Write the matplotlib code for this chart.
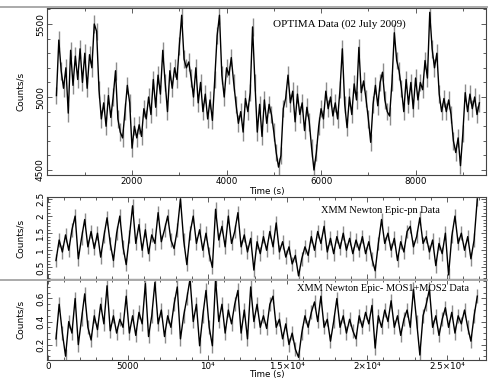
import numpy as np
import matplotlib
matplotlib.use("Agg")
import matplotlib.pyplot as plt
from matplotlib.ticker import MultipleLocator, FixedLocator, FixedFormatter
from matplotlib.lines import Line2D

# OPTIMA light curve (counts/s), 50 s bins starting at 400 s
OPT_T0, OPT_DT = 400, 50
opt_rate = [
    5010, 5390, 5180, 5060, 5200, 4890, 5320, 5080, 5280, 5120,
    5330, 5100, 5300, 5060, 5290, 5200, 5500, 5450, 5050, 4850,
    4960, 4800, 5010, 4860, 5000, 5180, 4850, 4760, 4720, 4900,
    5080, 4960, 4650, 4800, 4720, 4810, 4730, 4920, 4850, 5000,
    4880, 5120, 4930, 5150, 5020, 5320, 5100, 4900, 5180, 5060,
    5200, 5120, 5350, 5560, 5260, 5200, 5240, 5130, 5000, 5200,
    4960, 5100, 4900, 5020, 4850, 4980, 4840, 5120, 5420, 5560,
    5150, 5000, 5200, 5150, 5270, 5100, 4950, 4820, 4900, 4760,
    4990, 4900, 5030, 5480, 5100, 4760, 4950, 4730, 4980, 4820,
    4950, 4880, 4760, 4620, 4520, 4600, 4920, 4990, 5150, 4960,
    5040, 4830, 5020, 4880, 4960, 4770, 4930, 4830, 4650, 4500,
    4620, 4800, 4920, 4850, 5040, 4920, 5000, 4870, 4960, 4850,
    5050, 5330, 4950, 4790, 5000, 4880, 5090, 4980, 5340, 5030,
    5110, 4990, 4850, 4690, 4950, 5080, 4940, 5100, 5170, 4980,
    4900, 4870, 5100, 5440, 5250, 5180, 5060, 4900, 5120, 4950,
    5100, 4920, 5130, 4980, 5100, 5050, 5250, 5130, 5580, 5330,
    5200, 5300, 5020, 4900, 4990, 4900, 4980, 4880, 4700, 4620,
    4720, 4530, 4750, 5030, 4900, 5020, 4920, 5000, 4880, 4960,
]
opt_err = 60

# XMM light curves, 200 s bins starting at 500 s
XMM_T0, XMM_DT = 500, 200
pn_rate = [
    0.70, 1.30, 0.95, 1.45, 1.00, 1.60, 2.00, 0.75, 1.35, 1.90,
    1.10, 1.55, 1.05, 1.50, 0.80, 1.40, 1.95, 1.20, 0.70, 1.50,
    2.00, 1.10, 0.58, 1.40, 2.30, 1.20, 1.75, 1.00, 1.60, 0.90,
    1.45, 1.20, 2.10, 1.25, 1.60, 2.00, 1.30, 1.05, 1.60, 2.50,
    1.30, 0.58, 1.50, 2.00, 1.20, 1.60, 1.00, 1.50, 0.90, 0.50,
    2.20, 1.30, 1.70, 1.10, 2.00, 1.20, 1.55, 2.10, 1.10, 1.45,
    0.95, 1.35, 0.42, 1.25, 0.90, 1.40, 1.00, 1.55, 1.10, 1.80,
    0.95, 1.25, 0.80, 1.10, 0.60, 0.85, 0.25, 0.75, 1.10, 0.85,
    1.40, 1.00, 1.55, 1.20, 1.70, 0.95, 1.35, 0.90, 1.40, 1.05,
    1.50, 1.00, 1.35, 0.90, 1.30, 1.00, 1.40, 0.90, 1.25, 0.75,
    0.40, 1.20, 1.90, 1.20, 1.50, 1.00, 1.35, 0.70, 1.25, 0.95,
    1.55, 1.70, 1.10, 1.40, 1.95, 1.20, 1.40, 0.95, 1.30, 0.55,
    1.20, 0.90, 1.50, 0.28, 1.40, 2.00, 1.20, 1.50, 1.00, 1.40,
    0.75, 1.30, 2.50,
]
pn_err = 0.2

mos_rate = [
    0.25, 0.55, 0.30, 0.10, 0.40, 0.30, 0.60, 0.20, 0.42, 0.64,
    0.35, 0.24, 0.45, 0.33, 0.55, 0.38, 0.71, 0.32, 0.45, 0.30,
    0.42, 0.35, 0.62, 0.30, 0.45, 0.28, 0.48, 0.38, 0.73, 0.27,
    0.45, 0.74, 0.38, 0.50, 0.27, 0.45, 0.35, 0.55, 0.70, 0.25,
    0.45, 0.60, 0.77, 0.40, 0.55, 0.19, 0.45, 0.67, 0.35, 0.19,
    0.77, 0.40, 0.55, 0.30, 0.50, 0.38, 0.55, 0.67, 0.30, 0.50,
    0.25, 0.70, 0.40, 0.55, 0.35, 0.45, 0.34, 0.55, 0.62, 0.35,
    0.42, 0.25, 0.38, 0.20, 0.30, 0.16, 0.09, 0.30, 0.45, 0.35,
    0.48, 0.57, 0.40, 0.62, 0.35, 0.42, 0.23, 0.40, 0.60, 0.35,
    0.45, 0.30, 0.42, 0.32, 0.25, 0.45, 0.35, 0.48, 0.38, 0.54,
    0.17, 0.45, 0.35, 0.50, 0.40, 0.58, 0.35, 0.45, 0.28, 0.42,
    0.50, 0.35, 0.68, 0.40, 0.11, 0.45, 0.55, 0.68, 0.35, 0.45,
    0.28, 0.42, 0.52, 0.35, 0.48, 0.30, 0.45, 0.38, 0.50, 0.35,
    0.23, 0.45, 0.62,
]
mos_err = 0.06

opt_t = OPT_T0 + OPT_DT * np.arange(len(opt_rate))
xmm_t = XMM_T0 + XMM_DT * np.arange(len(pn_rate))

NARROW = ["Liberation Sans Narrow", "DejaVu Sans"]
SPINE = "#444444"

fig = plt.figure(figsize=(4.88, 3.78), dpi=100)
ax1 = fig.add_axes([0.0963, 0.537, 0.8996, 0.442])
ax2 = fig.add_axes([0.0963, 0.261, 0.8996, 0.218])
ax3 = fig.add_axes([0.0963, 0.048, 0.8996, 0.213])


def style(ax):
    for s in ax.spines.values():
        s.set_color(SPINE)
        s.set_linewidth(0.8)
    ax.tick_params(which="both", direction="in", top=True, right=True,
                   color=SPINE, width=0.6)
    ax.tick_params(which="major", length=3.5)
    ax.tick_params(which="minor", length=2)
    ax.tick_params(axis="x", labelsize=6.3, pad=1.5)
    ax.tick_params(axis="y", labelsize=6.5, pad=1.5)
    for lab in ax.get_yticklabels():
        lab.set_rotation(90)
        lab.set_va("center")
        lab.set_family(NARROW)
    ax.set_ylabel("Counts/s", family=NARROW, fontsize=6.5, labelpad=8)


def curve(ax, t, y, e):
    ax.errorbar(t, y, yerr=e, fmt="-", color="black", lw=1.0,
                ecolor="#8c8c8c", elinewidth=1.0, capsize=0)


# top: OPTIMA
curve(ax1, opt_t, opt_rate, opt_err)
ax1.set_xlim(200, 9490)
ax1.set_ylim(4466, 5610)
ax1.xaxis.set_major_locator(MultipleLocator(2000))
ax1.xaxis.set_minor_locator(MultipleLocator(1000))
ax1.yaxis.set_major_locator(MultipleLocator(500))
ax1.yaxis.set_minor_locator(MultipleLocator(100))
style(ax1)
ax1.set_xlabel("Time (s)", fontsize=6.3, labelpad=1)
ax1.text(0.515, 0.885, "OPTIMA Data (02 July 2009)", transform=ax1.transAxes,
         family="Liberation Serif", fontsize=8)

# middle: Epic-pn
curve(ax2, xmm_t, pn_rate, pn_err)
ax2.set_xlim(-63, 27445)
ax2.set_ylim(0.15, 2.56)
ax2.xaxis.set_major_locator(MultipleLocator(5000))
ax2.xaxis.set_minor_locator(MultipleLocator(1000))
ax2.yaxis.set_major_locator(FixedLocator([0.5, 1.0, 1.5, 2.0, 2.5]))
ax2.yaxis.set_major_formatter(FixedFormatter(["0.5", "1", "1.5", "2", "2.5"]))
ax2.yaxis.set_minor_locator(MultipleLocator(0.1))
ax2.set_xticklabels([])
style(ax2)
ax2.text(0.625, 0.80, "XMM Newton Epic-pn Data", transform=ax2.transAxes,
         family="Liberation Serif", fontsize=7.5)

# bottom: MOS1+MOS2
curve(ax3, xmm_t, mos_rate, mos_err)
ax3.set_xlim(-63, 27445)
ax3.set_ylim(0.068, 0.766)
ticks = [0, 5000, 10000, 15000, 20000, 25000]
ax3.xaxis.set_major_locator(FixedLocator(ticks))
ax3.xaxis.set_major_formatter(FixedFormatter(
    ["0", "5000", "10\u2074", "1.5\u00d710\u2074", "2\u00d710\u2074", "2.5\u00d710\u2074"]))
ax3.xaxis.set_minor_locator(MultipleLocator(1000))
ax3.yaxis.set_major_locator(MultipleLocator(0.2))
ax3.yaxis.set_minor_locator(MultipleLocator(0.05))
style(ax3)
ax3.set_xlabel("Time (s)", fontsize=6.3, labelpad=-0.5)
ax3.text(0.57, 0.86, "XMM Newton Epic- MOS1+MOS2 Data", transform=ax3.transAxes,
         family="Liberation Serif", fontsize=7.5)

# full-width rules seen in the original scan
for yy in (0.981, 0.259):
    fig.add_artist(Line2D([0, 1], [yy, yy], color="#aaaaaa", lw=1.4,
                          transform=fig.transFigure))

fig.savefig("out.png", dpi=100)
